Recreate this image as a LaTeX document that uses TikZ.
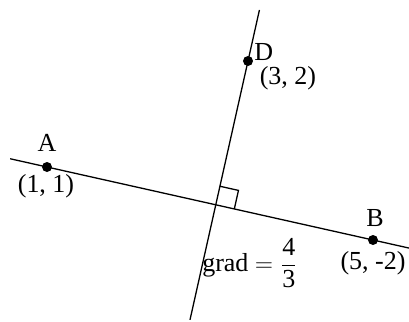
\documentclass[tikz,border=0pt]{standalone}
\usepackage{amsmath}
\usepackage{fontspec}
\setmainfont{Liberation Serif}
\usepackage{tikz}
\usetikzlibrary{positioning, calc}

\begin{document}
\begin{tikzpicture}[x=0.5pt, y=-0.5pt,
          every node/.style={font=\fontsize{13}{15}\selectfont, inner sep=0pt},
          dot/.style={circle, fill=black, minimum size=5pt}]
          \useasboundingbox (0,0) rectangle (409,322);

          \node[dot] (A) at (47,167) {};
          \node[dot] (B) at (373,240) {};
          \node[dot] (D) at (248,61) {};

          % foot of the perpendicular from D
          \coordinate (P) at ($(A)!(D)!(B)$);
          \coordinate (ab0) at ($(A)!-0.113!(B)$);
          \coordinate (ab1) at ($(A)!1.11!(B)$);
          \coordinate (d0) at ($(D)!-0.355!(P)$);
          \coordinate (d1) at ($(D)!1.8!(P)$);

          \draw[line width=0.65pt] (ab0) -- (ab1);
          \draw[line width=0.65pt] (d0) -- (d1);

          % right angle mark
          \coordinate (Pd) at ($(P)!9.5pt!(D)$);
          \coordinate (Pb) at ($(P)!9.5pt!(B)$);
          \draw[line width=0.65pt] (Pd) -- ($(Pd)+(Pb)-(P)$) -- (Pb);

          \node (la) at (47,143) {A};
          \node (ca) at (46,186) {(1, 1)};
          \node[anchor=west] (ld) at (254,52) {D};
          \node (cd) at (288,78) {(3, 2)};
          \node (lb) at (375,218) {B};
          \node (cb) at (373,263) {(5, -2)};
          \node (grad) at (250,263) {grad $=\dfrac{\text{4}}{\text{3}}$};
        \end{tikzpicture}
\end{document}
